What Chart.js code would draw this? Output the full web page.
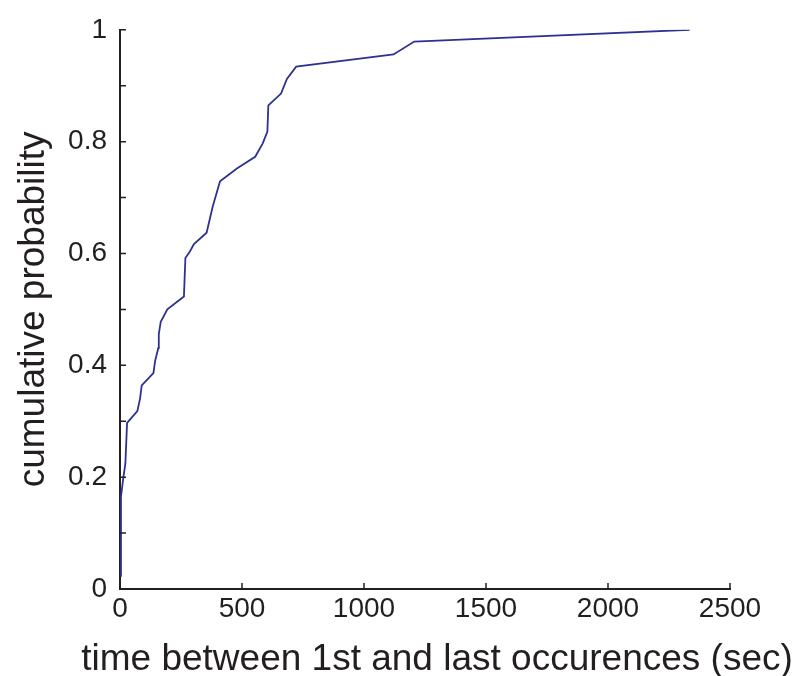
<!DOCTYPE html>
<html>
<head>
<meta charset="utf-8">
<script src="https://cdn.jsdelivr.net/npm/chart.js@4.4.1/dist/chart.umd.min.js"></script>
<style>
  body { margin: 0; background: #fff; }
  #wrap { width: 796px; height: 676px; }
</style>
</head>
<body>
<div id="wrap"><canvas id="myChart" width="796" height="676"></canvas></div>
<script>
// time between 1st and last occurence (sec) vs cumulative probability
const times = [4, 4, 14, 22, 29, 71, 82, 89, 137, 144, 157, 159, 167, 194, 262, 268, 287,
    303, 355, 380, 410, 479, 554, 585, 604, 608, 660, 684, 722, 1121, 1206, 2335];
const probs = [0.022, 0.165, 0.2, 0.224, 0.297, 0.318, 0.34, 0.364, 0.386, 0.408, 0.431, 0.456,
    0.478, 0.5, 0.523, 0.592, 0.604, 0.617, 0.637, 0.684, 0.729, 0.752, 0.773, 0.797, 0.818,
    0.865, 0.886, 0.912, 0.934, 0.956, 0.979, 1.0];
const xTicks = [0, 500, 1000, 1500, 2000, 2500];
const yTicks = [0, 0.2, 0.4, 0.6, 0.8, 1];
const xTitle = 'time between 1st and last occurences (sec)';
const yTitle = 'cumulative probability';

const ink = '#231f20';
const fontFamily = '"Liberation Sans", Arial, sans-serif';

// matlab style ticks pointing into the plot, plus the x title (the scale title
// squeezes long text to the axis width)
const innerTicks = {
    id: 'innerTicks',
    afterDraw(chart) {
        const { ctx, scales: { x, y } } = chart;
        ctx.save();
        ctx.strokeStyle = ink;
        ctx.lineWidth = 1.5;
        ctx.beginPath();
        x.ticks.forEach(t => {
            const px = x.getPixelForValue(t.value);
            ctx.moveTo(px, y.bottom);
            ctx.lineTo(px, y.bottom - 6);
        });
        y.ticks.forEach(t => {
            const py = y.getPixelForValue(t.value);
            ctx.moveTo(x.left, py);
            ctx.lineTo(x.left + 6, py);
        });
        ctx.stroke();

        ctx.fillStyle = ink;
        ctx.font = '37px ' + fontFamily;
        ctx.textAlign = 'center';
        ctx.textBaseline = 'alphabetic';
        ctx.fillText(xTitle, 437, 670);
        ctx.restore();
    }
};

new Chart(document.getElementById('myChart'), {
    type: 'line',
    data: {
        datasets: [{
            data: times.map((t, i) => ({ x: t, y: probs[i] })),
            borderColor: '#2e3192',
            borderWidth: 1.8,
            pointRadius: 0,
            tension: 0,
            fill: false
        }]
    },
    options: {
        responsive: false,
        animation: false,
        layout: { padding: { top: 27, right: 66, left: 0, bottom: 0 } },
        plugins: { legend: { display: false }, tooltip: { enabled: false } },
        scales: {
            x: {
                type: 'linear',
                min: xTicks[0],
                max: xTicks[xTicks.length - 1],
                afterFit: s => { s.height = 87; },
                afterBuildTicks: s => { s.ticks = xTicks.map(v => ({ value: v })); },
                grid: { display: false, drawTicks: false },
                border: { display: true, color: ink, width: 2 },
                ticks: {
                    color: ink,
                    padding: 3,
                    maxRotation: 0,
                    font: { family: fontFamily, size: 28 },
                    callback: v => String(v)
                },
                title: { display: false }
            },
            y: {
                type: 'linear',
                min: 0,
                max: 1,
                afterFit: s => { s.width = 120; },
                afterBuildTicks: s => {
                    const all = [];
                    for (let i = 0; i <= 10; i++) all.push({ value: i / 10 });
                    s.ticks = all;
                },
                grid: { display: false, drawTicks: false },
                border: { display: true, color: ink, width: 2 },
                ticks: {
                    color: ink,
                    padding: 13,
                    font: { family: fontFamily, size: 28 },
                    callback: v => {
                        const r = Number(v.toFixed(1));
                        return yTicks.some(t => Math.abs(t - r) < 1e-9) ? String(r) : '';
                    }
                },
                title: {
                    display: true,
                    text: yTitle,
                    color: ink,
                    padding: { top: 15 },
                    font: { family: fontFamily, size: 37, lineHeight: 1 }
                }
            }
        }
    },
    plugins: [innerTicks]
});
</script>
</body>
</html>
